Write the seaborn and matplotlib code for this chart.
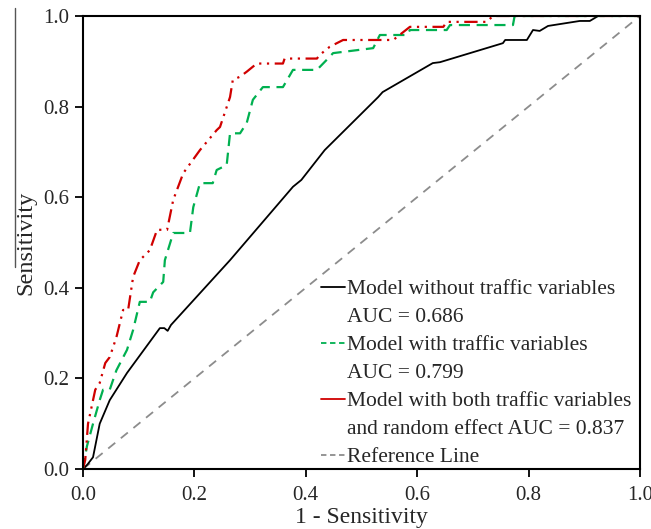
import numpy as np
import pandas as pd
import matplotlib
matplotlib.use('Agg')
import matplotlib.pyplot as plt
from matplotlib.lines import Line2D
import seaborn as sns

sns.set_style('ticks')
plt.rcParams['font.family'] = ['Liberation Serif', 'DejaVu Serif']

# ROC curve points
fpr_base = [0, 0.008, 0.018, 0.03, 0.048, 0.079, 0.138, 0.146, 0.152, 0.158, 0.264,
            0.377, 0.392, 0.434, 0.53, 0.538, 0.628, 0.641, 0.754, 0.758, 0.797,
            0.808, 0.820, 0.835, 0.892, 0.910, 0.925, 1.0]
tpr_base = [0, 0.01, 0.026, 0.10, 0.152, 0.212, 0.311, 0.311, 0.305, 0.318, 0.461,
            0.623, 0.638, 0.704, 0.821, 0.832, 0.896, 0.898, 0.940, 0.947, 0.947,
            0.969, 0.967, 0.978, 0.989, 0.989, 1.0, 1.0]

fpr_traffic = [0, 0.007, 0.018, 0.03, 0.036, 0.048, 0.06, 0.079, 0.09, 0.102, 0.12,
               0.126, 0.144, 0.147, 0.162, 0.192, 0.198, 0.21, 0.233, 0.24, 0.258,
               0.264, 0.282, 0.294, 0.305, 0.323, 0.359, 0.377, 0.42, 0.443, 0.449,
               0.521, 0.533, 0.582, 0.587, 0.653, 0.659, 0.772, 0.775, 1.0]
tpr_traffic = [0, 0.05, 0.10, 0.152, 0.175, 0.175, 0.218, 0.263, 0.307, 0.369, 0.369,
               0.39, 0.413, 0.461, 0.521, 0.521, 0.578, 0.631, 0.631, 0.66, 0.671,
               0.741, 0.741, 0.764, 0.815, 0.843, 0.843, 0.881, 0.881, 0.91, 0.918,
               0.929, 0.958, 0.958, 0.969, 0.969, 0.98, 0.98, 1.0, 1.0]

fpr_random = [0, 0.004, 0.009, 0.022, 0.03, 0.04, 0.048, 0.06, 0.072, 0.081, 0.09,
              0.102, 0.12, 0.133, 0.151, 0.162, 0.18, 0.21, 0.24, 0.246, 0.264,
              0.269, 0.282, 0.294, 0.312, 0.359, 0.362, 0.42, 0.425, 0.443, 0.467,
              0.557, 0.587, 0.647, 0.653, 0.725, 0.736, 1.0]
tpr_random = [0, 0.02, 0.10, 0.175, 0.19, 0.234, 0.247, 0.291, 0.351, 0.351, 0.424,
              0.461, 0.483, 0.528, 0.528, 0.594, 0.653, 0.704, 0.748, 0.755, 0.821,
              0.859, 0.866, 0.877, 0.895, 0.895, 0.906, 0.906, 0.914, 0.932, 0.947,
              0.947, 0.976, 0.976, 0.987, 0.987, 1.0, 1.0]

ref_line = [0, 1]

# legend rows (second lines of a label get no handle)
legend_rows = ['Model without traffic variables', 'AUC = 0.686',
               'Model with traffic variables', 'AUC = 0.799',
               'Model with both traffic variables', 'and random effect AUC = 0.837',
               'Reference Line']

fig = plt.figure(figsize=(6.51, 5.29), dpi=100)
ax = fig.add_axes([0.1275, 0.1134, 0.8555, 0.8564])

sns.lineplot(x=ref_line, y=ref_line, ax=ax, color='#8c8c8c', linestyle=(0, (5, 4)),
             linewidth=1.3, sort=False, estimator=None)
sns.lineplot(x=fpr_base, y=tpr_base, ax=ax, color='black', linewidth=1.3,
             sort=False, estimator=None)
sns.lineplot(x=fpr_traffic, y=tpr_traffic, ax=ax, color='#00b050', linestyle=(0, (5, 3)),
             linewidth=1.6, sort=False, estimator=None)
sns.lineplot(x=fpr_random, y=tpr_random, ax=ax, color='#d00000',
             linestyle=(0, (6, 2.5, 1, 2.5, 1, 2.5)), linewidth=1.6,
             sort=False, estimator=None)

ax.set_xlim(0, 1)
ax.set_ylim(0, 1)
ticks = [0.0, 0.2, 0.4, 0.6, 0.8, 1.0]
ax.set_xticks(ticks)
ax.set_yticks(ticks)
ax.set_xticklabels([f'{t:.1f}' for t in ticks], fontsize=15)
ax.set_yticklabels([f'{t:.1f}' for t in ticks], fontsize=15)
ax.tick_params(direction='out', length=6, width=1.3, color='black', pad=4)
ax.tick_params(axis='x', pad=6)
for s in ax.spines.values():
    s.set_visible(True)
    s.set_color('black')
    s.set_linewidth(1.5)

ax.set_xlabel('1 - Sensitivity', fontsize=17, labelpad=1.5)
ax.set_ylabel('Sensitivity', fontsize=17.5, labelpad=5)

blank = Line2D([], [], color='none')
handles = [Line2D([], [], color='black', linewidth=1.3), blank,
           Line2D([], [], color='#00b050', linewidth=1.3, linestyle=(0, (3, 2))), blank,
           Line2D([], [], color='#d00000', linewidth=1.3), blank,
           Line2D([], [], color='#8c8c8c', linewidth=1.3, linestyle=(0, (3, 2)))]
ax.legend(handles, legend_rows, loc='upper left', bbox_to_anchor=(0.428, 0.419),
          frameon=False, fontsize=15.5, handlelength=1.1, handletextpad=0.1,
          labelspacing=0.37, borderpad=0, borderaxespad=0)

# stray rule left of the y label in the original scan
fig.add_artist(Line2D([15 / 651, 15 / 651], [1 - 8 / 529, 1 - 267 / 529],
                      color='#555555', linewidth=1.0, transform=fig.transFigure))

fig.savefig('out.png', dpi=100)
